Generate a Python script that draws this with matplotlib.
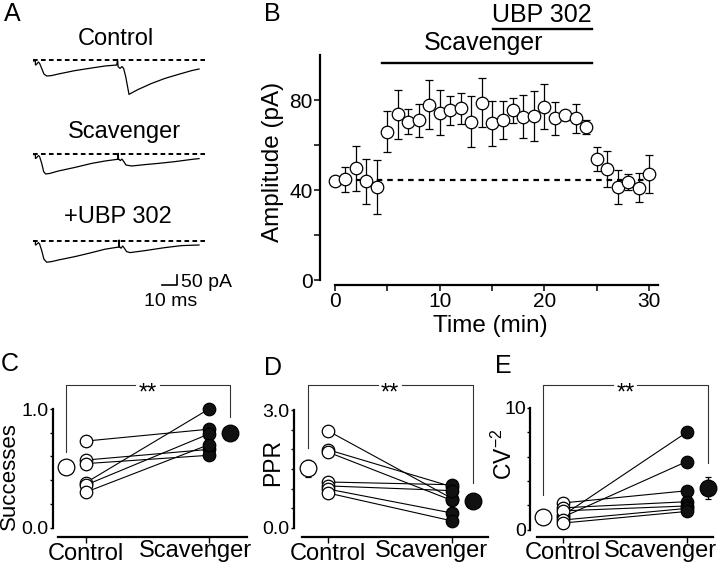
import matplotlib
matplotlib.use('Agg')
import matplotlib.pyplot as plt

plt.rcParams['font.family'] = ['Liberation Sans', 'DejaVu Sans']
plt.rcParams['mathtext.default'] = 'regular'

# ---- datos panel A (trazas ejemplo, ms / pA relativo a la linea base)
ctrl_t = [0.4, 1.6, 1.6, 2.2, 3.6, 4.4, 5.8, 7.3, 9.1, 12.4, 16.9, 28, 39.1, 48, 55.8, 56.4, 56.7,
          58, 59.3, 60.4, 61.8, 64, 66.9, 70.2, 79.1, 88, 96.9, 105.8, 110.7]
ctrl_i = [-5, -5, -25, -23, -10, -17, -42, -70, -80, -78, -70, -53, -40, -30, -25, 3, -33,
          -42, -33, -42, -83, -172, -160, -147, -117, -92, -72, -53, -45]
scav_t = [0.4, 1.6, 1.6, 2.2, 3.6, 4.4, 5.8, 7.1, 8.4, 11.3, 16.9, 28, 39.1, 48, 55.8, 56.7, 56.7,
          56.9, 58.2, 59.3, 60.7, 62, 65.8, 74.7, 83.6, 94.7, 105.8, 110.7]
scav_i = [-3, -3, -22, -20, -8, -13, -47, -88, -100, -97, -85, -67, -47, -35, -27, -27, 3,
          -23, -33, -25, -40, -55, -60, -53, -47, -38, -27, -23]
ubp_t = [0.4, 1.6, 1.6, 2.2, 3.6, 4.4, 5.8, 7.3, 9.1, 12.4, 16.9, 28, 39.1, 48, 56.4, 57.3, 57.3,
         57.6, 58.7, 59.8, 60.9, 62.4, 64.7, 74.7, 88, 99.1, 110.7]
ubp_i = [-3, -3, -22, -20, -10, -17, -50, -93, -108, -105, -97, -80, -60, -43, -33, -33, 3,
         -30, -38, -27, -38, -55, -60, -50, -35, -25, -22]
trace_names = ['Control', 'Scavenger', '+UBP 302']

# ---- datos panel B
tiempo = list(range(0, 31))
amplitud = [44, 44.7, 49.6, 44, 41.5, 66, 73.6, 70.4, 71, 78, 74.4, 75.5, 76.3, 70.4, 78.8, 69.6,
            71, 75.5, 72.6, 73, 77, 71.8, 73.3, 71.8, 68, 53.8, 49.3, 41.5, 43.7, 41, 47]
error_amp = [1.5, 5.5, 10, 10, 12, 9, 11, 5.5, 7.4, 11, 10, 6.5, 7, 11.5, 11, 10,
             8.5, 5.5, 9.5, 11, 10, 7.4, 2, 6.5, 3, 5.5, 8, 7.5, 3.5, 6.5, 8.5]
linea_base = 44.4

# ---- datos paneles C, D, E (pares control -> scavenger)
exitos_ctrl = [0.73, 0.57, 0.54, 0.38, 0.36, 0.30]
exitos_scav = [0.83, 0.66, 0.61, 1.00, 0.79, 0.70]
exitos_media = [0.51, 0.80]
exitos_sem = [0.04, 0.04]

ppr_ctrl = [2.47, 1.99, 1.93, 1.17, 1.07, 0.99, 0.89]
ppr_scav = [0.75, 1.05, 0.70, 1.10, 0.95, 0.38, 0.18]
ppr_media = [1.52, 0.68]
ppr_sem = [0.22, 0.05]

cv_ctrl = [2.2, 1.2, 1.05, 1.8, 1.55, 0.8, 0.55]
cv_scav = [3.2, 8.0, 5.6, 2.3, 1.95, 1.75, 1.5]
cv_media = [1.07, 3.45]
cv_sem = [0.1, 0.9]

grupos = ['Control', 'Scavenger']

W, H = 720, 569
fig = plt.figure(figsize=(7.2, 5.69), dpi=100)


def px_text(x, y, s, **kw):
    fig.text(x / W, 1 - y / H, s, **kw)


def panel(x_left, x_right, y_top, y_bottom, x_zero, x_scale, y_zero, y_scale):
    # ejes colocados en pixeles, con escala dada en px por unidad
    ax = fig.add_axes([x_left / W, 1 - y_bottom / H, (x_right - x_left) / W, (y_bottom - y_top) / H])
    ax.set_xlim((x_left - x_zero) / x_scale, (x_right - x_zero) / x_scale)
    ax.set_ylim((y_zero - y_bottom) / y_scale, (y_zero - y_top) / y_scale)
    return ax


# ---------------- Panel A
axA = panel(20, 240, 0, 310, 33, 1.5, 60, 0.2)
axA.axis('off')
offsets = [0, -470, -903]
for (t, i), off in zip([(ctrl_t, ctrl_i), (scav_t, scav_i), (ubp_t, ubp_i)], offsets):
    axA.plot(t, [v + off for v in i], color='k', lw=0.9)
    axA.plot([0, 114.7], [off, off], color='k', lw=1.4, ls=(0, (2.4, 1.7)))
# barra de escala 10 ms / 50 pA
axA.plot([86, 96, 96], [-1125, -1125, -1075], color='k', lw=1.2)
px_text(181, 287, '50 pA', fontsize=14, ha='left', va='baseline')
px_text(171, 306, '10 ms', fontsize=14, ha='center', va='baseline')
px_text(116, 45, trace_names[0], fontsize=17, ha='center', va='baseline')
px_text(124, 138, trace_names[1], fontsize=17, ha='center', va='baseline')
px_text(118, 223, trace_names[2], fontsize=17, ha='center', va='baseline')

# ---------------- Panel B
axB = panel(320, 659.6, 55, 285, 335, 10.47, 280, 2.25)
axB.plot([0, 30], [linea_base, linea_base], color='k', lw=1.6, ls=(0, (2.5, 2.2)), zorder=1)
axB.errorbar(tiempo, amplitud, yerr=error_amp, fmt='o', ms=9, mfc='white', mec='k', mew=0.9,
             ecolor='k', elinewidth=0.9, capsize=3, capthick=0.9, zorder=3)
axB.plot([4.46, 24.57], [96.3, 96.3], color='k', lw=1.7, clip_on=False)
axB.plot([15.12, 24.57], [111.4, 111.4], color='k', lw=1.7, clip_on=False)
axB.text(14.2, 102.2, 'Scavenger', fontsize=18, ha='center', va='baseline')
axB.text(19.8, 114.7, 'UBP 302', fontsize=18, ha='center', va='baseline')
for s in ['top', 'right']:
    axB.spines[s].set_visible(False)
axB.spines['left'].set_bounds(0, 100)
axB.spines['bottom'].set_bounds(0, 30.85)
for s in ['left', 'bottom']:
    axB.spines[s].set_linewidth(1.6)
axB.set_yticks([0, 20, 40, 60, 80])
axB.set_yticklabels(['0', '', '40', '', '80'])
axB.set_xticks(range(0, 31, 5))
axB.set_xticklabels(['0', '', '10', '', '20', '', '30'])
axB.tick_params(direction='out', length=4.3, width=1.1, pad=1, labelsize=15)
px_text(273, 162, 'Amplitude (pA)', fontsize=17.5, rotation=90, ha='center', va='center')
px_text(490, 326, 'Time (min)', fontsize=17.5, ha='center', va='center')


# ---------------- Paneles C, D, E
def pares(ax, ctrl, scav, media, sem, ytop, yticks, ylabels, xbound, bracket, scav_px):
    for c, s in zip(ctrl, scav):
        ax.plot([0, 1], [c, s], color='k', lw=0.8, zorder=2)
    ax.plot([0] * len(ctrl), ctrl, 'o', ms=9, mfc='white', mec='k', mew=0.9, zorder=3)
    ax.plot([1] * len(scav), scav, 'o', ms=9, mfc='#111111', mec='k', mew=0.9, zorder=3)
    ax.errorbar([-0.163], [media[0]], yerr=[sem[0]], fmt='o', ms=12, mfc='white', mec='k', mew=0.9,
                ecolor='k', elinewidth=0.9, capsize=2.5, zorder=3)
    ax.errorbar([1.17], [media[1]], yerr=[sem[1]], fmt='o', ms=12, mfc='#111111', mec='k', mew=0.9,
                ecolor='k', elinewidth=0.9, capsize=2.5, zorder=3)
    # corchete de significancia
    lb, top, rb = bracket
    ax.plot([-0.163, -0.163, 0.40], [lb, top, top], color='0.2', lw=0.8, clip_on=False)
    ax.plot([0.60, 1.17, 1.17], [top, top, rb], color='0.2', lw=0.8, clip_on=False)
    for s in ['top', 'right']:
        ax.spines[s].set_visible(False)
    ax.spines['left'].set_bounds(0, ytop)
    ax.spines['bottom'].set_bounds(*xbound)
    for s in ['left', 'bottom']:
        ax.spines[s].set_linewidth(1.6)
    ax.set_yticks(yticks)
    ax.set_yticklabels(ylabels)
    ax.set_xticks([0, 1])
    ax.set_xticklabels([grupos[0], ''])
    px_text(scav_px, 557, grupos[1], fontsize=17, ha='center', va='baseline')
    ax.tick_params(axis='y', direction='out', length=2.5, width=1.0, pad=0.5, labelsize=14)
    ax.tick_params(axis='x', direction='out', length=4, width=1.0, pad=0, labelsize=17)
    return ax


axC = panel(53, 250, 373, 537, 86, 123, 527.7, 118.7)
pares(axC, exitos_ctrl, exitos_scav, exitos_media, exitos_sem, 1.0,
      [0, 0.2, 0.4, 0.6, 0.8, 1.0], ['0.0', '', '', '', '', '1.0'], (-0.228, 1.31), (0.64, 1.20, 0.93), 195)
axD = panel(294, 492, 373, 537, 328, 124, 528, 39.33)
pares(axD, ppr_ctrl, ppr_scav, ppr_media, ppr_sem, 3.0,
      [0, 0.5, 1.0, 1.5, 2.0, 2.5, 3.0], ['0.0', '', '', '', '', '', '3.0'], (-0.21, 1.29), (2.03, 3.64, 1.15), 431)
axE = panel(530, 720, 373, 536.7, 563.3, 123.4, 529.7, 12.17)
pares(axE, cv_ctrl, cv_scav, cv_media, cv_sem, 10,
      [0, 2, 4, 6, 8, 10], ['0', '', '', '', '', '10'], (-0.216, 1.21), (2.85, 11.9, 5.5), 660)

for x in [148, 390, 626]:
    px_text(x, 400, '**', fontsize=17, ha='center', va='baseline')

px_text(9, 476, 'Successes', fontsize=16, rotation=90, ha='center', va='center')
px_text(273, 463, 'PPR', fontsize=16.5, rotation=90, ha='center', va='center')
px_text(504, 454, 'CV$^{-2}$', fontsize=16.5, rotation=90, ha='center', va='center')

# letras de panel
for letra, x, y in [('A', 12, 14), ('B', 272, 14), ('C', 10, 364), ('D', 273, 368), ('E', 503, 366)]:
    px_text(x, y, letra, fontsize=18, ha='center', va='center')

fig.savefig('out.png', dpi=100)
